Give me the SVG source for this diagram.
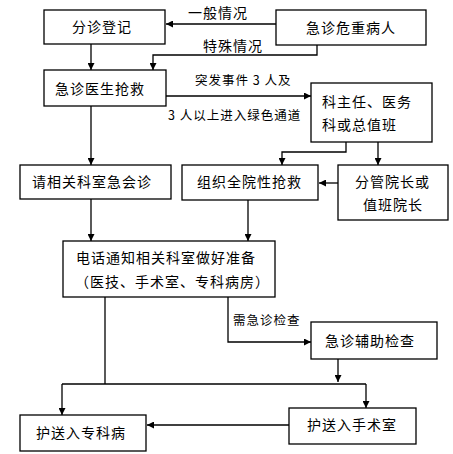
<svg xmlns="http://www.w3.org/2000/svg" width="453" height="454" viewBox="0 0 453 454">
<defs>
<style>
.box{fill:#fff;stroke:#000;stroke-width:1.3}
.t{font-family:"Noto Sans CJK SC","Liberation Sans",sans-serif;font-size:14px;letter-spacing:1px;fill:#000}
.s{font-family:"Noto Sans CJK SC","Liberation Sans",sans-serif;font-size:12.5px;letter-spacing:1px;fill:#000}
.c{fill:none;stroke:#000;stroke-width:1.3}
</style>
<marker id="a" viewBox="0 0 8 8" refX="8" refY="4" markerWidth="7" markerHeight="7" markerUnits="userSpaceOnUse" orient="auto">
<path d="M0,0 L8,4 L0,8 Z" fill="#000"/>
</marker>
</defs>
<rect width="453" height="454" fill="#fff"/>
<g id="connectors">
<path class="c" d="M276,24 H166" marker-end="url(#a)"/>
<path class="c" d="M317,45 V55 H153 V70" marker-end="url(#a)"/>
<path class="c" d="M91,44 V70" marker-end="url(#a)"/>
<path class="c" d="M166,96 H311" marker-end="url(#a)"/>
<path class="c" d="M91,106 V165" marker-end="url(#a)"/>
<path class="c" d="M346,142 V152 H282 V165" marker-end="url(#a)"/>
<path class="c" d="M378,142 V165" marker-end="url(#a)"/>
<path class="c" d="M338,183 H319" marker-end="url(#a)"/>
<path class="c" d="M91,199 V241" marker-end="url(#a)"/>
<path class="c" d="M248,200 V241" marker-end="url(#a)"/>
<path class="c" d="M228,297 V342 H311" marker-end="url(#a)"/>
<path class="c" d="M105,297 V384"/>
<path class="c" d="M338,359 V382" marker-end="url(#a)"/>
<path class="c" d="M62,384 H366"/>
<path class="c" d="M62,384 V415" marker-end="url(#a)"/>
<path class="c" d="M366,384 V408" marker-end="url(#a)"/>
<path class="c" d="M289,425 H147" marker-end="url(#a)"/>
<text class="t" x="188" y="18">一般情况</text>
<text class="t" x="203" y="51">特殊情况</text>
<text class="s" x="195" y="85" letter-spacing="0.6">突发事件 3 人及</text>
<text class="s" x="168" y="120" letter-spacing="0.6">3 人以上进入绿色通道</text>
<text class="s" x="233" y="325">需急诊检查</text>
</g>
<g id="n1"><rect class="box" x="44" y="10" width="121" height="34"/><text class="t" x="72" y="32">分诊登记</text></g>
<g id="n2"><rect class="box" x="276" y="10" width="150" height="35"/><text class="t" x="306" y="33">急诊危重病人</text></g>
<g id="n3"><rect class="box" x="44" y="70" width="122" height="36"/><text class="t" x="55" y="94">急诊医生抢救</text></g>
<g id="n4"><rect class="box" x="311" y="83" width="121" height="59"/><text class="t" x="322" y="107" letter-spacing="2">科主任、医务</text><text class="t" x="322" y="130">科或总值班</text></g>
<g id="n5"><rect class="box" x="20" y="165" width="151" height="34"/><text class="t" x="32" y="187">请相关科室急会诊</text></g>
<g id="n6"><rect class="box" x="182" y="165" width="136" height="35"/><text class="t" x="197" y="187">组织全院性抢救</text></g>
<g id="n7"><rect class="box" x="338" y="165" width="110" height="55"/><text class="t" x="355" y="187">分管院长或</text><text class="t" x="363" y="210">值班院长</text></g>
<g id="n8"><rect class="box" x="63" y="241" width="212" height="56"/><text class="t" x="76" y="263" letter-spacing="1.6">电话通知相关科室做好准备</text><text class="t" x="75" y="287">（医技、手术室、专科病房）</text></g>
<g id="n9"><rect class="box" x="311" y="322" width="126" height="37"/><text class="t" x="325" y="346" letter-spacing="1.5">急诊辅助检查</text></g>
<g id="n10"><rect class="box" x="20" y="415" width="126" height="36"/><text class="t" x="36" y="438" letter-spacing="1.3">护送入专科病</text></g>
<g id="n11"><rect class="box" x="289" y="408" width="127" height="36"/><text class="t" x="307" y="430" letter-spacing="1.2">护送入手术室</text></g>
</svg>
